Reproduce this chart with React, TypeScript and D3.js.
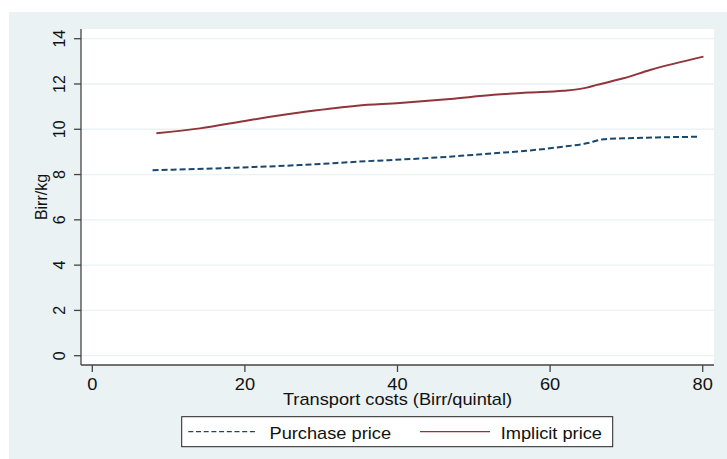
import React from "react";
import * as d3 from "d3";

const W = 727;
const H = 459;

const yTicks = [0, 2, 4, 6, 8, 10, 12, 14];
const xTicks = [0, 20, 40, 60, 80];

const purchaseX = [7.9, 18.5, 27.2, 36.0, 42.5, 46.8, 52.6, 56.9, 61.7, 64.8, 67.0, 69.6, 74.0, 79.4];
const purchaseY = [8.19, 8.3, 8.42, 8.59, 8.7, 8.79, 8.94, 9.05, 9.23, 9.38, 9.56, 9.6, 9.64, 9.67];

const implicitX = [8.4, 14.1, 20.7, 28.1, 34.7, 40.3, 46.9, 52.6, 57.1, 61.7, 64.8, 66.1, 69.6, 73.1, 80.1];
const implicitY = [9.82, 10.04, 10.41, 10.78, 11.04, 11.16, 11.34, 11.52, 11.62, 11.7, 11.84, 11.96, 12.25, 12.62, 13.21];

const seriesNames = ["Purchase price", "Implicit price"];
const xTitle = "Transport costs (Birr/quintal)";
const yTitle = "Birr/kg";

const BLUE = "#1a476f";
const RED = "#90353b";
const BG = "#eaf2f3";
const AXIS = "#444";
const FONT = "'Liberation Sans', Arial, sans-serif";

function HText({ x, y, anchor, children }: { x: number; y: number; anchor: string; children: React.ReactNode }) {
  return (
    <g transform={`translate(${x},${y}) scale(1.14,1)`}>
      <text x={0} y={0} textAnchor={anchor} fontSize={16} fontFamily={FONT} fill="#111">
        {children}
      </text>
    </g>
  );
}

export default function App() {
  const plotL = 81;
  const plotR = 714;
  const plotT = 29;
  const plotB = 365;

  const x = d3.scaleLinear().domain([0, 80]).range([92.3, 702.7]);
  const y = d3.scaleLinear().domain([0, 14]).range([355.7, 38.7]);

  const line = d3
    .line<[number, number]>()
    .x((d) => x(d[0]))
    .y((d) => y(d[1]))
    .curve(d3.curveMonotoneX);

  const purchase = purchaseX.map((v, i) => [v, purchaseY[i]] as [number, number]);
  const implicit = implicitX.map((v, i) => [v, implicitY[i]] as [number, number]);

  const legY = 431.7;

  return (
    <svg
      width={W}
      height={H}
      style={{ position: "absolute", left: 0, top: 0, background: "#fff" }}
    >
      <rect x={9} y={12} width={W - 9} height={H - 12} fill={BG} />
      <rect x={plotL} y={plotT} width={plotR - plotL} height={plotB - plotT} fill="#fff" />

      {yTicks.map((t) => (
        <line key={"g" + t} x1={plotL} x2={plotR} y1={y(t)} y2={y(t)} stroke={BG} strokeWidth={1.3} />
      ))}

      {/* axes */}
      <line x1={plotL} x2={plotL} y1={plotT} y2={plotB} stroke={AXIS} strokeWidth={1.3} />
      <line x1={plotL} x2={plotR} y1={plotB} y2={plotB} stroke={AXIS} strokeWidth={1.3} />

      {yTicks.map((t) => (
        <g key={"y" + t}>
          <line x1={plotL - 7} x2={plotL} y1={y(t)} y2={y(t)} stroke={AXIS} strokeWidth={1.3} />
          <text
            transform={`translate(65,${y(t)}) rotate(-90)`}
            textAnchor="middle"
            fontSize={16}
            fontFamily={FONT}
            fill="#111"
          >
            {t}
          </text>
        </g>
      ))}

      {xTicks.map((t) => (
        <g key={"x" + t}>
          <line x1={x(t)} x2={x(t)} y1={plotB} y2={plotB + 7} stroke={AXIS} strokeWidth={1.3} />
          <HText x={x(t)} y={390} anchor="middle">
            {t}
          </HText>
        </g>
      ))}

      <HText x={(plotL + plotR) / 2} y={405} anchor="middle">
        {xTitle}
      </HText>

      <text
        transform={`translate(46.5,${(plotT + plotB) / 2}) rotate(-90)`}
        textAnchor="middle"
        fontSize={16}
        fontFamily={FONT}
        fill="#111"
      >
        {yTitle}
      </text>

      {/* series */}
      <path d={line(purchase) || ""} fill="none" stroke={BLUE} strokeWidth={2} strokeDasharray="6,3" />
      <path d={line(implicit) || ""} fill="none" stroke={RED} strokeWidth={2} />

      {/* legend */}
      <rect x={181.7} y={416.7} width={431} height={30} fill="#fff" stroke="#222" strokeWidth={1} />
      <line x1={188.3} x2={257.3} y1={legY} y2={legY} stroke={BLUE} strokeWidth={1.3} strokeDasharray="5,2.7" />
      <HText x={269.5} y={439} anchor="start">
        {seriesNames[0]}
      </HText>
      <line x1={420} x2={490} y1={legY} y2={legY} stroke={RED} strokeWidth={1.3} />
      <HText x={500.7} y={439} anchor="start">
        {seriesNames[1]}
      </HText>
    </svg>
  );
}
